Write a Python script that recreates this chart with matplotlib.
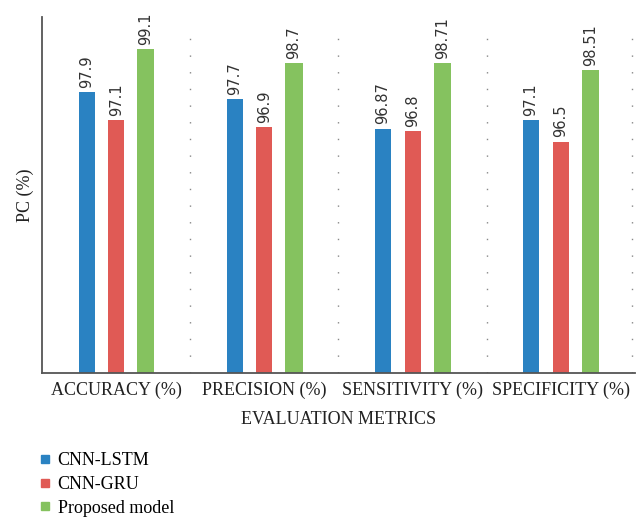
import matplotlib
matplotlib.use("Agg")
import matplotlib.pyplot as plt
import numpy as np
from matplotlib.lines import Line2D

# ===== data =====
categories = ["ACCURACY (%)", "PRECISION (%)", "SENSITIVITY (%)", "SPECIFICITY (%)"]
series_names = ["CNN-LSTM", "CNN-GRU", "Proposed model"]
cnn_lstm = [97.9, 97.7, 96.87, 97.1]
cnn_gru = [97.1, 96.9, 96.8, 96.5]
proposed = [99.1, 98.7, 98.71, 98.51]
value_labels = [
    ["97.9", "97.7", "96.87", "97.1"],
    ["97.1", "96.9", "96.8", "96.5"],
    ["99.1", "98.7", "98.71", "98.51"],
]
colors = ["#2a82c2", "#e05a55", "#85c25f"]

serif = ["Liberation Serif", "DejaVu Serif"]

fig = plt.figure(figsize=(6.38, 5.19), dpi=100)
ax = fig.add_axes([0.066, 0.281, 0.929, 0.686])

x = np.arange(len(categories))
offsets = [-0.2, 0.0, 0.2]
widths = [0.108, 0.108, 0.115]
for i, vals in enumerate([cnn_lstm, cnn_gru, proposed]):
    bars = ax.bar(x + offsets[i], vals, width=widths[i], color=colors[i], bottom=0)
    for b, lab in zip(bars, value_labels[i]):
        ax.text(b.get_x() + b.get_width() / 2, b.get_height() + 0.12, lab,
                rotation=90, ha="center", va="bottom", fontsize=10.5,
                color="#333333", family="DejaVu Sans")

ax.set_ylim(90, 100)
ax.set_xlim(-0.5, 3.5)

# dotted separators between groups
for sep in [0.5, 1.5, 2.5, 3.48]:
    ax.axvline(sep, ymax=0.98, color="#888888", linestyle=(0, (1, 11)), linewidth=1.0)

ax.set_yticks([])
ax.set_xticks(x)
ax.set_xticklabels(categories, family=serif, fontsize=13, color="#222222")
ax.tick_params(axis="x", length=0, pad=6)
for s in ["top", "right"]:
    ax.spines[s].set_visible(False)
ax.spines["left"].set_color("#555555")
ax.spines["bottom"].set_color("#555555")
ax.spines["left"].set_linewidth(1.3)
ax.spines["bottom"].set_linewidth(1.3)

ax.set_ylabel("PC (%)", family=serif, fontsize=13, color="#222222", labelpad=6)
ax.set_xlabel("EVALUATION METRICS", family=serif, fontsize=13, color="#222222", labelpad=9)

handles = [Line2D([0], [0], marker="s", linestyle="", markersize=6,
                  markerfacecolor=c, markeredgecolor=c) for c in colors]
fig.legend(handles, series_names, loc="upper left", bbox_to_anchor=(0.045, 0.143),
           frameon=False, prop={"family": serif, "size": 13}, handletextpad=0.2,
           labelspacing=0.38, borderaxespad=0, handlelength=1.0)

fig.savefig("out.png", dpi=100)
